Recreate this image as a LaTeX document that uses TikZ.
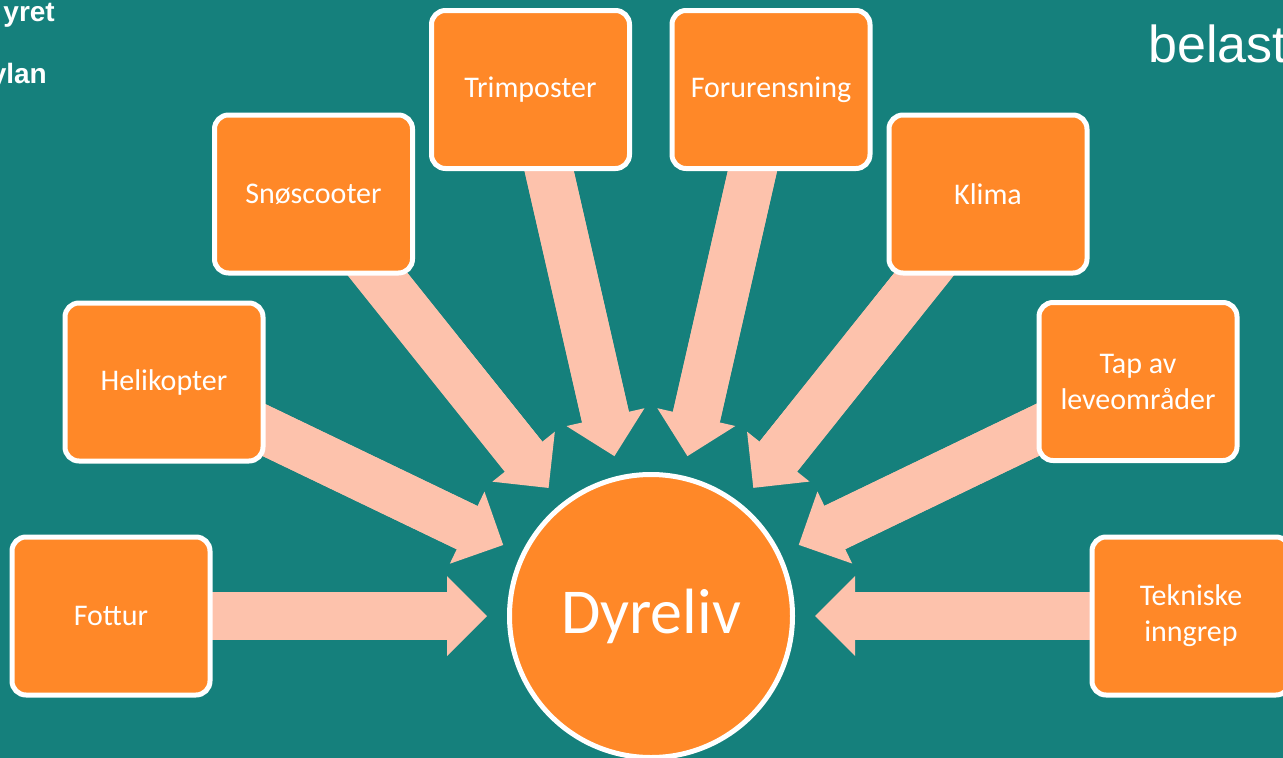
\documentclass[tikz,border=0pt]{standalone}
\usepackage{fontspec}
\setmainfont{Carlito}
\newfontfamily\arialfont{Liberation Sans}
\usetikzlibrary{arrows.meta,calc}
\definecolor{bg}{RGB}{21,128,124}
\definecolor{boxorange}{RGB}{255,136,40}
\definecolor{peach}{RGB}{253,194,172}
\pgfdeclarelayer{back}
\pgfsetlayers{back,main}
\begin{document}
\begin{tikzpicture}[x=1pt,y=-1pt,
  box/.style={draw=white, line width=5pt, fill=boxorange, rounded corners=14pt,
    minimum width=198pt, minimum height=158pt, text=white,
    font=\fontsize{30}{36}\selectfont, align=center, inner sep=0pt},
  hub/.style={circle, draw=white, line width=5pt, fill=boxorange, minimum size=283pt,
    text=white, font=\fontsize{64}{72}\selectfont, inner sep=0pt},
  flow/.style={draw=peach, line width=48pt,
    -{Triangle[length=40pt,width=80pt,line width=0pt]}},
  flowshaft/.style={draw=peach, line width=48pt},
  corner/.style={text=white, font=\arialfont\bfseries\fontsize{28}{32}\selectfont, inner sep=0pt, anchor=base east},
  title/.style={text=white, font=\arialfont\fontsize{52}{58}\selectfont, inner sep=0pt, anchor=base west},
]
\useasboundingbox (0,0) rectangle (1283,758);
\clip (0,0) rectangle (1283,758);
\begin{pgfonlayer}{back}
  \fill[bg] (0,0) rectangle (1283,758);
\end{pgfonlayer}

\node[corner] (t1) at (55,21) {yret};
\node[corner] (t2) at (47,83) {ylan};
\node[title] (t3) at (1148,62) {belast};

\node[box] (fot) at (111,616) {Fottur};
\node[box] (hel) at (164,382) {Helikopter};
\node[box] (sno) at (313.5,194) {Snøscooter};
\node[box] (tri) at (530.5,89.5) {Trimposter};
\node[box] (for) at (771,89.5) {Forurensning};
\node[box] (kli) at (988,194) {Klima};
\node[box] (tap) at (1138,381.5) {Tap av\\leveområder};
\node[box] (tek) at (1191,616) {Tekniske\\inngrep};
\node[hub] (dyr) at (651,616) {Dyreliv};

\begin{pgfonlayer}{back}
  \foreach \n in {fot,hel,sno,tri,for,kli,tap,tek}{
    \draw[flowshaft] (\n.center) -- ($(dyr.center)!195pt!(\n.center)$);
    \draw[flow] (\n.center) -- ($(dyr.center)!164pt!(\n.center)$);
  }
\end{pgfonlayer}
\end{tikzpicture}
\end{document}
